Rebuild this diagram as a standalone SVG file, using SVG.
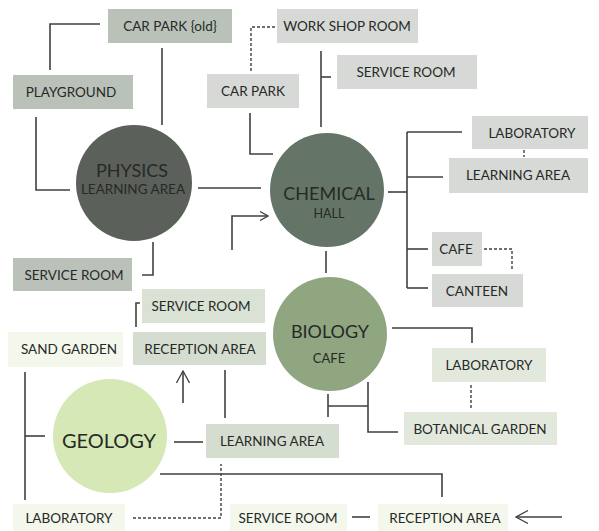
<svg xmlns="http://www.w3.org/2000/svg" width="599" height="531" viewBox="0 0 599 531">
<style>
text{font-family:Lato,"Open Sans","Liberation Sans",sans-serif;fill:#262a26;text-anchor:middle}
.bt{font-size:13.5px}
.ct{font-size:18px}
.cs{font-size:13px}
.b1{fill:#b9c1b9}
.b2{fill:#d6d9d6}
.b3{fill:#d4ddd0}
.b4{fill:#e2e9dc}
.b5{fill:#f3f7ec}
.ln{fill:none;stroke:#3f423f;stroke-width:1.6}
.ds{fill:none;stroke:#3f423f;stroke-width:1.4;stroke-dasharray:3 2}
</style>
<defs>
<marker id="ch" viewBox="0 0 10 10" refX="9" refY="5" markerWidth="10" markerHeight="10" markerUnits="userSpaceOnUse" orient="auto">
<path d="M1,0.5 L9,5 L1,9.5" fill="none" stroke="#3f423f" stroke-width="1.3"/>
</marker>
<marker id="chb" viewBox="0 0 14 14" refX="13" refY="7" markerWidth="14" markerHeight="14" markerUnits="userSpaceOnUse" orient="auto">
<path d="M1,0.5 L13,7 L1,13.5" fill="none" stroke="#3f423f" stroke-width="1.3"/>
</marker>
</defs>
<rect width="599" height="531" fill="#ffffff"/>
<g id="connectors">
<polyline class="ln" points="50,70 50,24 100,24"/>
<line class="ln" x1="162" y1="48" x2="162" y2="125"/>
<polyline class="ln" points="36,117 36,190 70,190"/>
<line class="ln" x1="198" y1="188" x2="261" y2="188"/>
<polyline class="ln" points="232,250 232,216 268,216" marker-end="url(#ch)"/>
<polyline class="ln" points="153,242 153,275 142,275"/>
<polyline class="ds" points="251,71 251,27 276,27"/>
<polyline class="ln" points="250,113 250,154 273,154"/>
<line class="ln" x1="321" y1="51" x2="321" y2="127"/>
<line class="ln" x1="321" y1="77" x2="331" y2="77"/>
<line class="ln" x1="388" y1="192" x2="407" y2="192"/>
<line class="ln" x1="407" y1="132" x2="407" y2="288"/>
<line class="ln" x1="407" y1="132" x2="462" y2="132"/>
<line class="ln" x1="407" y1="177" x2="443" y2="177"/>
<line class="ln" x1="407" y1="249" x2="428" y2="249"/>
<line class="ln" x1="407" y1="288" x2="428" y2="288"/>
<line class="ds" x1="524" y1="150" x2="524" y2="157"/>
<polyline class="ds" points="484,249 512,249 512,270"/>
<line class="ln" x1="326" y1="251" x2="326" y2="273"/>
<polyline class="ln" points="392,328 472,328 472,343"/>
<line class="ds" x1="471" y1="385" x2="471" y2="409"/>
<polyline class="ln" points="368,382 368,432 398,432"/>
<line class="ln" x1="328" y1="406" x2="368" y2="406"/>
<line class="ln" x1="328" y1="394" x2="328" y2="417"/>
<polyline class="ln" points="140,303 136,303 136,327"/>
<line class="ln" x1="183" y1="403" x2="183" y2="371" marker-end="url(#chb)"/>
<line class="ln" x1="225" y1="370" x2="225" y2="418"/>
<line class="ln" x1="174" y1="442" x2="203" y2="442"/>
<line class="ln" x1="25" y1="372" x2="25" y2="500"/>
<line class="ln" x1="25" y1="436" x2="45" y2="436"/>
<polyline class="ln" points="160,474 442,474 442,497"/>
<polyline class="ds" points="133,518 221,518 221,464"/>
<line class="ln" x1="352" y1="517" x2="370" y2="517"/>
<line class="ln" x1="562" y1="517" x2="516" y2="517" marker-end="url(#chb)"/>
</g>
<g id="car-park-old"><rect class="b1" x="108" y="9" width="124" height="34"/><text class="bt" x="170" y="31">CAR PARK {old}</text></g>
<g id="workshop-room"><rect class="b2" x="277" y="9" width="141" height="34"/><text class="bt" x="347" y="31">WORK SHOP ROOM</text></g>
<g id="playground"><rect class="b1" x="13" y="75" width="120" height="34"/><text class="bt" x="71" y="97">PLAYGROUND</text></g>
<g id="car-park"><rect class="b2" x="207" y="74" width="92" height="34"/><text class="bt" x="253" y="96">CAR PARK</text></g>
<g id="service-room-top"><rect class="b2" x="337" y="55" width="140" height="34"/><text class="bt" x="406" y="77">SERVICE ROOM</text></g>
<g id="laboratory-chem"><rect class="b2" x="472" y="116" width="116" height="33"/><text class="bt" x="532" y="138">LABORATORY</text></g>
<g id="learning-area-chem"><rect class="b2" x="449" y="158" width="139" height="35"/><text class="bt" x="518" y="180">LEARNING AREA</text></g>
<g id="cafe"><rect class="b2" x="432" y="232" width="50" height="34"/><text class="bt" x="456" y="254">CAFE</text></g>
<g id="canteen"><rect class="b2" x="432" y="274" width="91" height="33"/><text class="bt" x="477" y="296">CANTEEN</text></g>
<g id="service-room-left"><rect class="b1" x="13" y="258" width="119" height="33"/><text class="bt" x="74" y="280">SERVICE ROOM</text></g>
<g id="service-room-mid"><rect class="b3" x="142" y="289" width="123" height="34" style="fill:#dae2d5"/><text class="bt" x="201" y="311">SERVICE ROOM</text></g>
<g id="reception-area-mid"><rect class="b3" x="133" y="332" width="133" height="33"/><text class="bt" x="200" y="354">RECEPTION AREA</text></g>
<g id="sand-garden"><rect class="b5" x="8" y="332" width="115" height="35"/><text class="bt" x="69" y="354">SAND GARDEN</text></g>
<g id="learning-area-geo"><rect class="b3" x="206" y="424" width="133" height="34"/><text class="bt" x="272" y="446">LEARNING AREA</text></g>
<g id="laboratory-bio"><rect class="b4" x="432" y="348" width="114" height="34"/><text class="bt" x="489" y="370">LABORATORY</text></g>
<g id="botanical-garden"><rect class="b4" x="404" y="412" width="153" height="33"/><text class="bt" x="480" y="434">BOTANICAL GARDEN</text></g>
<g id="laboratory-bottom"><rect class="b5" x="13" y="504" width="112" height="27"/><text class="bt" x="69" y="523">LABORATORY</text></g>
<g id="service-room-bottom"><rect class="b5" x="230" y="504" width="117" height="27"/><text class="bt" x="288" y="523">SERVICE ROOM</text></g>
<g id="reception-area-bottom"><rect class="b5" x="378" y="504" width="130" height="27"/><text class="bt" x="445" y="523">RECEPTION AREA</text></g>
<g id="physics"><circle cx="134" cy="183" r="58" fill="#5b605a"/><text class="ct" x="132" y="177">PHYSICS</text><text class="cs" x="133" y="194" style="font-size:13.5px">LEARNING AREA</text></g>
<g id="chemical"><circle cx="327" cy="190" r="57" fill="#647467"/><text class="ct" x="329" y="200">CHEMICAL</text><text class="cs" x="329" y="218" style="font-size:12.5px">HALL</text></g>
<g id="biology"><circle cx="330" cy="334" r="57" fill="#8fa680"/><text class="ct" x="330" y="338">BIOLOGY</text><text class="cs" x="329" y="363">CAFE</text></g>
<g id="geology"><circle cx="110" cy="436" r="57" fill="#d5e8b6"/><text class="ct" x="109" y="448" style="font-size:20px">GEOLOGY</text></g>
</svg>
